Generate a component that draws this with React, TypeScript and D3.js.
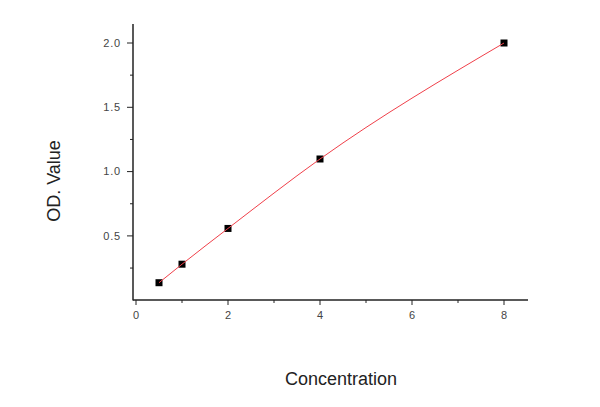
import React from "react";
import * as d3 from "d3";

const concentrations = [0.5, 1, 2, 4, 8];
const odValues = [0.136, 0.28, 0.558, 1.098, 2.0];
const xTickValues = [0, 2, 4, 6, 8];
const xMinorTicks = [1, 3, 5, 7];
const yTickValues = [0.5, 1.0, 1.5, 2.0];
const yMinorTicks = [0.25, 0.75, 1.25, 1.75];

const W = 600;
const H = 407;

export default function App() {
  const x = d3.scaleLinear().domain([0, 8]).range([136, 504]);
  const y = d3.scaleLinear().domain([0, 2]).range([300.2, 43]);
  const xAxisLeft = 133;
  const xAxisRight = 528;
  const yAxisTop = 24;
  const yAxisBottom = 300;

  const pts: [number, number][] = concentrations.map((c, i) => [c, odValues[i]]);
  const line = d3
    .line<[number, number]>()
    .x((d) => x(d[0]))
    .y((d) => y(d[1]))
    .curve(d3.curveMonotoneX);

  const tickFont = "Arial, 'Liberation Sans', sans-serif";

  return (
    <svg
      width={W}
      height={H}
      style={{ position: "absolute", left: 0, top: 0, background: "#fff" }}
    >
      {/* axes */}
      <line x1={xAxisLeft} x2={xAxisLeft} y1={yAxisTop} y2={yAxisBottom + 0.5} stroke="#222" strokeWidth={1.5} />
      <line x1={xAxisLeft} x2={xAxisRight} y1={yAxisBottom} y2={yAxisBottom} stroke="#222" strokeWidth={1.5} />

      {/* y ticks */}
      {yTickValues.map((v) => (
        <g key={"yt" + v}>
          <line x1={xAxisLeft - 6} x2={xAxisLeft} y1={y(v)} y2={y(v)} stroke="#222" strokeWidth={1} />
          <text
            x={xAxisLeft - 12}
            y={y(v)}
            dy="0.35em"
            textAnchor="end"
            fontSize={11}
            letterSpacing={0.8}
            fontFamily={tickFont}
            fill="#444"
          >
            {v.toFixed(1)}
          </text>
        </g>
      ))}
      {yMinorTicks.map((v) => (
        <line key={"ym" + v} x1={xAxisLeft - 3} x2={xAxisLeft} y1={y(v)} y2={y(v)} stroke="#222" strokeWidth={1} />
      ))}

      {/* x ticks */}
      {xTickValues.map((v) => (
        <g key={"xt" + v}>
          <line x1={x(v)} x2={x(v)} y1={yAxisBottom} y2={yAxisBottom + 5} stroke="#222" strokeWidth={1} />
          <text
            x={x(v)}
            y={yAxisBottom + 19}
            textAnchor="middle"
            fontSize={11}
            fontFamily={tickFont}
            fill="#444"
          >
            {v}
          </text>
        </g>
      ))}
      {xMinorTicks.map((v) => (
        <line key={"xm" + v} x1={x(v)} x2={x(v)} y1={yAxisBottom} y2={yAxisBottom + 3} stroke="#222" strokeWidth={1} />
      ))}

      {/* points */}
      {pts.map((p, i) => (
        <rect key={"p" + i} x={x(p[0]) - 3.5} y={y(p[1]) - 3.5} width={7} height={7} fill="#000" />
      ))}

      {/* fit line */}
      <path d={line(pts) || ""} fill="none" stroke="#f0404a" strokeWidth={1} />

      {/* titles */}
      <text
        x={341}
        y={385}
        textAnchor="middle"
        fontSize={18}
        fontFamily={tickFont}
        fill="#222"
      >
        Concentration
      </text>
      <text
        transform={`translate(60, 181) rotate(-90)`}
        textAnchor="middle"
        fontSize={18}
        fontFamily={tickFont}
        fill="#222"
      >
        OD. Value
      </text>
    </svg>
  );
}
